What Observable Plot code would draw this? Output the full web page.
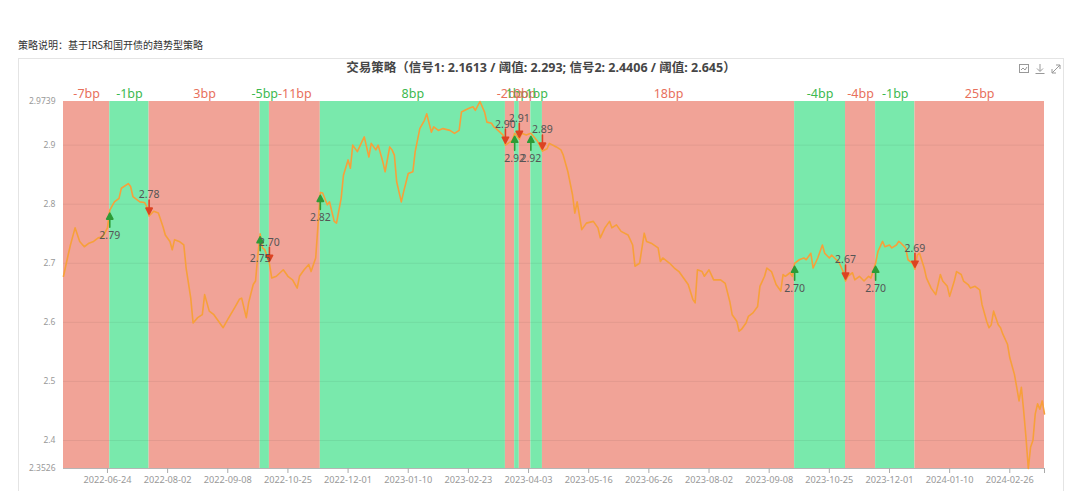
<!DOCTYPE html>
<html><head><meta charset="utf-8">
<script src="https://cdn.jsdelivr.net/npm/d3@7"></script>
<script src="https://cdn.jsdelivr.net/npm/@observablehq/plot@0.6"></script>
<style>
body{margin:0;background:#fff;width:1080px;height:491px;overflow:hidden;position:relative;font-family:"Noto Sans","Noto Sans CJK SC",sans-serif;}
#note{position:absolute;left:18px;top:37px;font-size:10px;color:#333;white-space:nowrap;}
#panel{position:absolute;left:18px;top:58px;width:1046px;height:460px;border:1px solid #e4e4e4;box-sizing:border-box;}
#title{position:absolute;left:18px;width:1046px;top:59px;text-align:center;font-size:12.5px;font-weight:bold;color:#464646;line-height:18px;white-space:nowrap;}
#icons{position:absolute;left:1016px;top:62px;}
#chart{position:absolute;left:0;top:71px;}
</style></head>
<body>
<div id="note">策略说明：基于IRS和国开债的趋势型策略</div>
<div id="panel"></div>
<div id="title">交易策略（信号1: 2.1613 / 阈值: 2.293; 信号2: 2.4406 / 阈值: 2.645）</div>
<svg id="icons" width="50" height="14" viewBox="0 0 50 14" fill="none" stroke="#999" stroke-width="1">
  <rect x="3.5" y="2.5" width="9" height="8"/><path d="M5 8l2-2 2 2 2-3"/>
  <path d="M24 2v7M21 6.5l3 3 3-3M19.5 11.5h9"/>
  <path d="M36 11l8-8M40 3h4v4M36 7v4h4"/>
</svg>
<div id="chart"></div>
<script>
// ---- data ----
const lineT = [0,2,3,5,7,9,11,13,15,17,19,20,22,24,25,28,29,30,33,35,36,37,39,41,43,44,46,47,48,50,52,53,55,56,58,60,61,63,65,67,69,71,74,76,77,79,80,82,83,84,85,86,87,89,90,92,95,97,99,101,102,104,106,107,109,111,112,114,115,117,118,120,121,123,124,125,127,129,130,132,133,135,136,138,139,141,142,143,144,146,147,149,151,152,154,156,157,159,160,162,164,167,169,171,172,175,177,178,180,182,183,185,186,187,190,191,194,195,197,198,200,202,205,207,209,210,213,215,216,218,220,221,222,224,226,229,231,232,234,236,237,239,241,244,246,247,249,251,252,254,257,258,259,262,264,266,268,270,272,273,274,276,277,279,281,284,286,288,289,291,292,293,295,296,298,300,301,303,304,306,307,308,310,311,312,314,315,316,318,320,321,323,324,326,328,329,331,332,334,335,337,338,339,341,342,344,346,348,349,351,352,354,355,357,358,360,361,362,364,365,367,368,369,370,372,373,375,377,378,379,380,382,383,385,386,388,389,391,392,394,396,397,399,400,401,402,404,405,406,408,409,411,412,413,414,415,416,417,418,419,420,421,422,423,424];
const lineV = [2.678,2.714,2.731,2.760,2.737,2.728,2.734,2.737,2.743,2.745,2.760,2.790,2.804,2.810,2.827,2.835,2.830,2.813,2.804,2.803,2.796,2.780,2.788,2.785,2.762,2.748,2.737,2.723,2.740,2.737,2.731,2.692,2.641,2.599,2.608,2.613,2.647,2.619,2.613,2.602,2.591,2.605,2.625,2.639,2.641,2.608,2.633,2.664,2.670,2.714,2.750,2.726,2.723,2.700,2.675,2.678,2.689,2.678,2.672,2.658,2.678,2.689,2.698,2.686,2.709,2.820,2.819,2.799,2.804,2.771,2.768,2.810,2.849,2.875,2.861,2.900,2.889,2.906,2.914,2.880,2.903,2.892,2.900,2.872,2.855,2.897,2.892,2.883,2.838,2.804,2.821,2.852,2.855,2.889,2.928,2.942,2.953,2.922,2.931,2.925,2.928,2.925,2.920,2.925,2.956,2.962,2.965,2.959,2.9739,2.956,2.939,2.937,2.931,2.928,2.917,2.900,2.908,2.920,2.910,2.920,2.917,2.920,2.906,2.890,2.894,2.903,2.897,2.892,2.883,2.855,2.816,2.785,2.804,2.757,2.768,2.771,2.760,2.743,2.760,2.771,2.760,2.765,2.754,2.748,2.731,2.695,2.700,2.751,2.737,2.734,2.726,2.703,2.709,2.700,2.692,2.686,2.675,2.664,2.639,2.633,2.689,2.686,2.678,2.689,2.672,2.672,2.666,2.635,2.613,2.602,2.585,2.588,2.599,2.610,2.616,2.627,2.661,2.678,2.692,2.686,2.675,2.664,2.653,2.681,2.678,2.684,2.678,2.700,2.706,2.709,2.706,2.717,2.692,2.709,2.731,2.717,2.709,2.714,2.706,2.703,2.686,2.670,2.678,2.684,2.672,2.678,2.670,2.678,2.675,2.700,2.720,2.737,2.728,2.731,2.726,2.731,2.737,2.734,2.726,2.706,2.700,2.690,2.714,2.717,2.692,2.675,2.658,2.647,2.664,2.681,2.670,2.661,2.644,2.670,2.686,2.681,2.670,2.664,2.658,2.661,2.655,2.630,2.602,2.591,2.596,2.619,2.596,2.591,2.580,2.563,2.540,2.512,2.490,2.467,2.490,2.450,2.405,2.3526,2.389,2.400,2.445,2.462,2.453,2.467,2.445];

const bandStart = [0,20,37,85,89,111,191,195,197,202,207,316,338,351,368];
const bandEnd   = [20,37,85,89,111,191,195,197,202,207,316,338,351,368,424];
const bandSide  = ["short","long","short","long","short","long","short","long","short","long","short","long","short","long","short"];
const bandLabel = ["-7bp","-1bp","3bp","-5bp","-11bp","8bp","-2bp","1bp","0bp","1bp","18bp","-4bp","-4bp","-1bp","25bp"];

const sigT   = [20,37,85,89,111,191,195,197,202,207,316,338,351,368];
const sigV   = [2.79,2.78,2.75,2.70,2.82,2.90,2.92,2.91,2.92,2.89,2.70,2.67,2.70,2.69];
const sigDir = ["up","down","up","down","up","down","up","down","up","down","up","down","up","down"];

const xTickIdx    = [19,45,71,97,123,149,175,201,227,253,279,305,331,357,383,409,424];
const xTickLabels = ["2022-06-24","2022-08-02","2022-09-08","2022-10-25","2022-12-01","2023-01-10","2023-02-23","2023-04-03","2023-05-16","2023-06-26","2023-08-02","2023-09-08","2023-10-25","2023-12-01","2024-01-10","2024-02-26",""];
const yTicks      = [2.3526,2.4,2.5,2.6,2.7,2.8,2.9,2.9739];
const yTickLabels = ["2.3526","2.4","2.5","2.6","2.7","2.8","2.9","2.9739"];
const gridVals    = [2.4,2.5,2.6,2.7,2.8,2.9];

// ---- tables ----
const line = lineT.map((t,i)=>({t, v: lineV[i]}));
const bands = bandStart.map((s,i)=>({s, e: bandEnd[i], m:(s+bandEnd[i])/2, side: bandSide[i], label: bandLabel[i]}));
const sigs = sigT.map((t,i)=>({t, v: sigV[i], dir: sigDir[i]}));
const ups = sigs.filter(d=>d.dir==="up"), downs = sigs.filter(d=>d.dir==="down");

const bandFill = {short:"#f1a397", long:"#79e9ac"};
const bandText = {short:"#e8705c", long:"#3cb950"};
const arrowShape = {draw(ctx, l, r){
  ctx.moveTo(0,0); ctx.lineTo(0,-l+r);
  ctx.moveTo(0,-l); ctx.lineTo(-r*0.9,-l+r*1.7); ctx.lineTo(r*0.9,-l+r*1.7); ctx.closePath();
}};

const chart = Plot.plot({
  width: 1080, height: 421,
  marginLeft: 63, marginRight: 36, marginTop: 30, marginBottom: 24,
  style: {fontFamily: '"Noto Sans","Noto Sans CJK SC",sans-serif', background: "transparent", color: "#999"},
  x: {domain: [0,424], label: null},
  y: {domain: [2.3526, 2.9739], label: null},
  marks: [
    Plot.rect(bands, {x1:"s", x2:"e", fill: d=>bandFill[d.side]}),
    Plot.ruleY(gridVals, {stroke:"#000", strokeOpacity:0.06}),
    Plot.ruleY([2.3526], {stroke:"#b5b5b5"}),
    Plot.text(bands, {x:"m", frameAnchor:"top", dy:-12, text:"label", fill: d=>bandText[d.side], fontSize:12.5}),
    Plot.line(line, {x:"t", y:"v", stroke:"#f7a03a", strokeWidth:1.6}),
    Plot.vector(ups, {x:"t", y:"v", length:14, rotate:0, anchor:"end", shape: arrowShape, r:3.5, stroke:"#2e9a36", fill:"#2e9a36", strokeWidth:1.6, dy:3}),
    Plot.vector(downs, {x:"t", y:"v", length:14, rotate:180, anchor:"end", shape: arrowShape, r:3.5, stroke:"#dc4322", fill:"#dc4322", strokeWidth:1.6, dy:-2}),
    Plot.text(ups, {x:"t", y:"v", text: d=>d.v.toFixed(2), dy:25, fill:"#555", fontSize:10.5}),
    Plot.text(downs, {x:"t", y:"v", text: d=>d.v.toFixed(2), dy:-21, fill:"#555", fontSize:10.5}),
    Plot.axisY({ticks: yTicks, tickFormat: d => yTickLabels[yTicks.indexOf(d)], tickSize:0, tickPadding:8, fontSize:8.5, color:"#999", label: null}),
    Plot.axisX({ticks: xTickIdx, tickFormat: d => xTickLabels[xTickIdx.indexOf(d)], tickSize:5, tickPadding:3, fontSize:9.2, color:"#aaa", fill:"#999", label: null})
  ]
});
document.getElementById("chart").appendChild(chart);
</script>
</body></html>
